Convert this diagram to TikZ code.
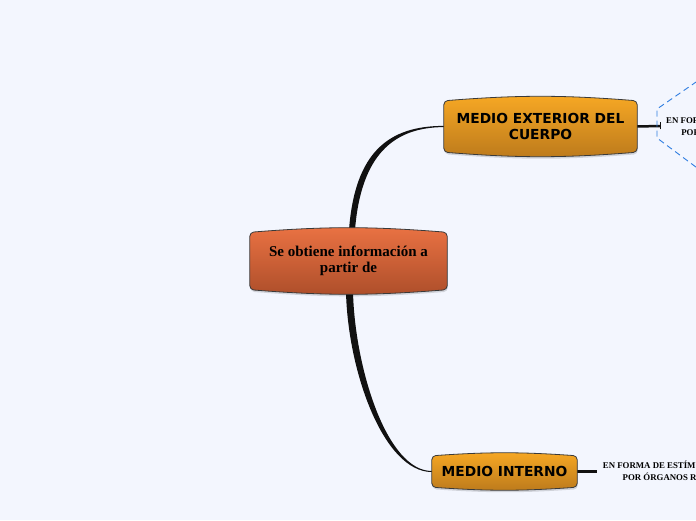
\documentclass[tikz,border=0pt]{standalone}
\usepackage{fontspec}
\setmainfont{Liberation Serif}
\newfontfamily\medfont{DejaVu Sans}
\usepackage{xcolor}
\usepackage{tikz}
\usetikzlibrary{calc}
\definecolor{mapBg}{HTML}{F3F6FE}
\definecolor{mapInk}{HTML}{111111}
\definecolor{mapEdge}{HTML}{3A3A3A}
\definecolor{rootTop}{HTML}{EA7243}
\definecolor{rootBot}{HTML}{AD4E2A}
\definecolor{medTop}{HTML}{F7A824}
\definecolor{medBot}{HTML}{BC7A1C}
\definecolor{hexBlue}{HTML}{2F7DE1}
\pgfdeclarelayer{bg}
\pgfdeclarelayer{links}
\pgfdeclarelayer{boxes}
\pgfsetlayers{bg,links,boxes,main}

% bulging box behind node #1: top colour #2, bottom colour #3, inset #4, bend #5
\newcommand\bulgebox[5]{%
  \begin{pgfonlayer}{boxes}
  \fill[black,opacity=.14,rounded corners=4pt,transform canvas={shift={(0.6pt,-2pt)}}]
    ($(#1.north west)+(0,-#4)$) to[bend left=#5] ($(#1.north east)+(0,-#4)$)
    -- ($(#1.south east)+(0,#4)$) to[bend left=#5] ($(#1.south west)+(0,#4)$) -- cycle;
  \draw[draw=mapEdge,line width=0.8pt,rounded corners=4pt,top color=#2,bottom color=#3]
    ($(#1.north west)+(0,-#4)$) to[bend left=#5] ($(#1.north east)+(0,-#4)$)
    -- ($(#1.south east)+(0,#4)$) to[bend left=#5] ($(#1.south west)+(0,#4)$) -- cycle;
  \end{pgfonlayer}}

\begin{document}
\begin{tikzpicture}[
  x=1pt,y=1pt,
  mainbox/.style={minimum width=197,minimum height=66,inner sep=0,align=center,
                  font=\bfseries\fontsize{15}{16.5}\selectfont},
  medbox/.style={inner sep=0,align=center,
                 font=\medfont\bfseries\fontsize{13.8}{16.5}\selectfont},
  leaf/.style={inner sep=0,align=center,font=\bfseries\fontsize{8.8}{11.5}\selectfont},
  hexline/.style={draw=hexBlue,line width=0.9pt,dash pattern=on 6pt off 4pt},
  link/.style={mapInk,line width=2.5pt}
]
\clip (0,0) rectangle (696,520);
\useasboundingbox (0,0) rectangle (696,520);
\begin{pgfonlayer}{bg}
\fill[mapBg] (0,0) rectangle (696,520);
\end{pgfonlayer}

\node[mainbox] (c) at (348.5,259) {Se obtiene información a\\partir de};
\node[medbox,minimum width=193,minimum height=60] (e) at (540.5,393.5) {MEDIO EXTERIOR DEL\\CUERPO};
\node[medbox,minimum width=145,minimum height=37] (i) at (504.5,48.5) {MEDIO INTERNO};
\bulgebox{c}{rootTop}{rootBot}{4.5}{4.5}
\bulgebox{e}{medTop}{medBot}{4.5}{4.5}
\bulgebox{i}{medTop}{medBot}{3}{4}

\node[leaf,anchor=west] (extlbl) at (666,394) {EN FORMA DE ESTÍMULOS EXTERIORES\\POR ÓRGANOS DE LOS SENTIDOS};
\node[leaf,anchor=west] (intlbl) at (602.7,49) {EN FORMA DE ESTÍMULOS CAPTADOS\\POR ÓRGANOS RECEPTORES};

\coordinate (hexl) at (657,396.5);
\coordinate (exttip) at ($(e.east)+(23,0.5)$);
\coordinate (inttip) at ($(i.east)+(20,0)$);

\begin{pgfonlayer}{links}
% tapered branches
\fill[mapInk] ($(c.north)+(0.5,-2)$) .. controls ($(c.north)+(6.5,76)$) and ($(e.west)+(-55,0.6)$) .. ($(e.west)+(0,0.6)$)
  -- ($(e.west)+(0,-0.6)$) .. controls ($(e.west)+(-51,-0.8)$) and ($(c.north)+(12.5,72)$) .. ($(c.north)+(6.5,-2)$) -- cycle;
\fill[mapInk] ($(c.south)+(-2.5,2)$) .. controls ($(c.south)+(-0.5,-78)$) and ($(i.west)+(-48,-0.5)$) .. ($(i.west)+(0,-0.5)$)
  -- ($(i.west)+(0,0.5)$) .. controls ($(i.west)+(-45,0.5)$) and ($(c.south)+(6.5,-74)$) .. ($(c.south)+(4.5,2)$) -- cycle;
\draw[link] (e.east) -- (exttip);
\draw[mapInk,line width=1.2pt] ($(exttip)+(0,-3.5)$) -- ($(exttip)+(0,3.5)$);
\draw[link] (i.east) -- (inttip);
\end{pgfonlayer}

\draw[hexline] ($(hexl)+(63,-61.5)$) -- ($(hexl)+(0,-14.5)$) -- ($(hexl)+(0,14.5)$) -- ($(hexl)+(63,58)$);
\end{tikzpicture}
\end{document}
